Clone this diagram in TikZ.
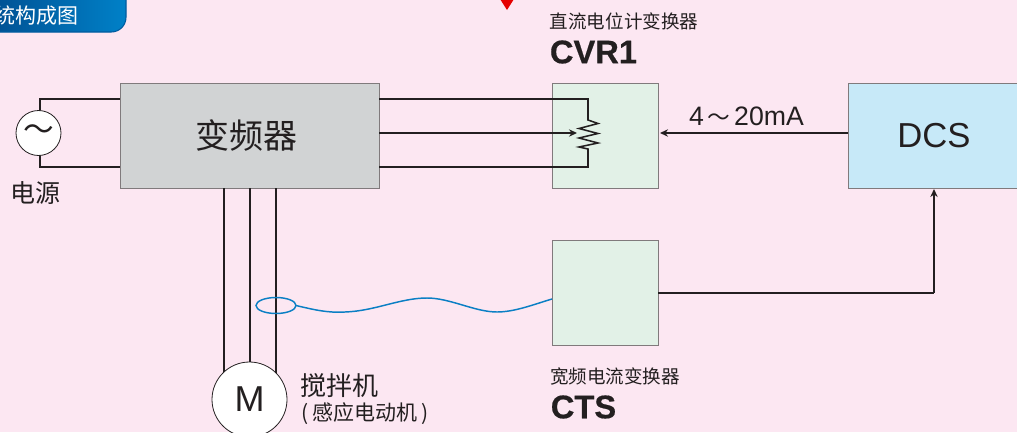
\documentclass[tikz,border=0pt]{standalone}
\usepackage{fontspec}
\setmainfont{Liberation Sans}
\newfontfamily\cjk{Noto Sans CJK SC}
\newfontfamily\heavy[FakeBold=0.5]{Liberation Sans Bold}
\usetikzlibrary{arrows.meta,shapes.geometric}

\definecolor{bgpink}{HTML}{FCE7F2}
\definecolor{invgray}{HTML}{D1D3D4}
\definecolor{boxgreen}{HTML}{E2F1E7}
\definecolor{dcsblue}{HTML}{C7E9F8}
\definecolor{wireblack}{HTML}{231F20}
\definecolor{edgegray}{HTML}{807A7C}
\definecolor{loopblue}{HTML}{0A7FC4}
\definecolor{tabdark}{HTML}{004C8E}
\definecolor{tablight}{HTML}{0081C8}

\tikzset{
	wire/.style={draw=wireblack, line width=1.15pt},
	unit/.style={draw=edgegray, line width=0.65pt, inner sep=0pt, outer sep=0pt, text=wireblack},
	round/.style={draw=wireblack, line width=0.6pt, fill=white, circle, inner sep=0pt, outer sep=0pt, text=wireblack},
	label/.style={inner sep=0pt, text=wireblack}
}

\begin{document}
\begin{tikzpicture}[x=0.75pt, y=-0.75pt]
			\useasboundingbox (0,0) rectangle (1017,432);
			\fill[bgpink] (0,0) rectangle (1017,432);
			
			\fill[red!90!black] (500,-1) -- (514,-1) -- (507,10) -- cycle;  % marker on top edge
			\path[left color=tabdark, right color=tablight, draw=tabdark!70!tablight, line width=0.8pt, rounded corners=11pt] (-20,-20) rectangle (126,32);
			\node[label, text=white, font=\cjk\fontsize{15.75}{15.75}\selectfont] (title) at (36,16) {统构成图};
			
			\node[unit, fill=invgray, minimum width=194.25pt, minimum height=78.75pt, font=\cjk\fontsize{25.5}{25.5}\selectfont] (inv) at (249.5,135.5) {\hspace{-5pt}变频器};
			\node[unit, fill=boxgreen, minimum width=79.5pt, minimum height=78.75pt] (cvr) at (605,135.5) {};
			\node[unit, fill=boxgreen, minimum width=79.5pt, minimum height=78.75pt] (cts) at (605,292.5) {};
			\node[unit, fill=dcsblue, minimum width=129pt, minimum height=78.75pt, font=\fontsize{26}{26}\selectfont] (dcs) at (934,135.5) {DCS};
			
			\coordinate (s0) at (40,133);
			\coordinate (s1) at (40,99);
			\coordinate (s2) at (40,167);
			\coordinate (i1) at (120,99);
			\coordinate (i2) at (120,167);
			\coordinate (o1) at (379,99);
			\coordinate (o2) at (379,133);
			\coordinate (o3) at (379,167);
			\coordinate (r1) at (588,99);
			\coordinate (r2) at (588,120);
			\coordinate (r3) at (588,149);
			\coordinate (r4) at (588,167);
			\coordinate (wiper) at (577,133);
			\coordinate (m1) at (224,188);
			\coordinate (m2) at (250,188);
			\coordinate (m3) at (276,188);
			\coordinate (n1) at (224,395);
			\coordinate (n2) at (250,395);
			\coordinate (n3) at (276,395);
			\coordinate (cvrin) at (660,133);
			\coordinate (dcsout) at (848,133);
			\coordinate (ctsout) at (658,293);
			\coordinate (bend) at (934,293);
			\coordinate (dcsin) at (934,189);
			\coordinate (ctsin) at (552,299);
			
			\draw[wire] (s0) -- (s1) -- (i1);
			\draw[wire] (s0) -- (s2) -- (i2);
			\node[round, minimum size=33.75pt, font=\cjk\fontsize{23}{23}\selectfont] (src) at (38.5,133) {\hspace{1pt}～};
			
			\def\list {m1/n1, m2/n2, m3/n3}  % motor lines
			\foreach \u\v in \list
			{	\draw[wire] (\u) -- (\v);}
			\node[round, minimum size=56.25pt, font=\fontsize{27}{27}\selectfont] (motor) at (249.5,399.5) {M};
			
			\draw[wire] (o1) -- (r1) -- (r2) -- ++(10,3.5) -- ++(-19,5) -- ++(19,5) -- ++(-19,4.5) -- ++(19,5) -- ++(-19,4) -- (r3) -- (r4) -- (o3);
			
			\def\list {o2/wiper, dcsout/cvrin, bend/dcsin}  % arrows
			\foreach \u\v in \list
			{	\draw[wire, -{Stealth[length=6pt, width=5.5pt]}] (\u) -- (\v);}
			\draw[wire] (ctsout) -- (bend);
			
			\node[draw=loopblue, line width=1.1pt, ellipse, inner sep=0pt, outer sep=0pt, minimum width=30pt, minimum height=12pt] (loop) at (276,305.5) {};
			\draw[loopblue, line width=1.1pt] (loop.east) .. controls (315,310) and (328,313) .. (345,312) .. controls (375,311) and (400,298) .. (427,298) .. controls (450,298) and (475,312) .. (497,312) .. controls (515,312) and (535,304) .. (ctsin);
			
			\node[label, font=\cjk\fontsize{18.75}{18.75}\selectfont] (power) at (35,193) {电源};
			\node[label, font=\fontsize{20}{20}\selectfont] (range) at (746.5,116) {4{\cjk\fontsize{17}{17}\selectfont\,～\,}20mA};
			\node[label, font=\cjk\fontsize{13.9}{13.9}\selectfont] (cvrname) at (624,21) {直流电位计变换器};
			\node[label, font=\heavy\fontsize{24.5}{24.5}\selectfont] (cvrtag) at (593.5,52) {CVR1};
			\node[label, font=\cjk\fontsize{13.9}{13.9}\selectfont] (ctsname) at (615,376) {宽频电流变换器};
			\node[label, font=\heavy\fontsize{24.5}{24.5}\selectfont] (ctstag) at (583.5,407) {CTS};
			\node[label, font=\cjk\fontsize{19.5}{19.5}\selectfont] (mixer) at (339,386) {搅拌机};
			\node[label, font=\cjk\fontsize{15.75}{15.75}\selectfont] (mixernote) at (365,414) {(\hspace{3pt}感应电动机\hspace{3pt})};
		\end{tikzpicture}
\end{document}
